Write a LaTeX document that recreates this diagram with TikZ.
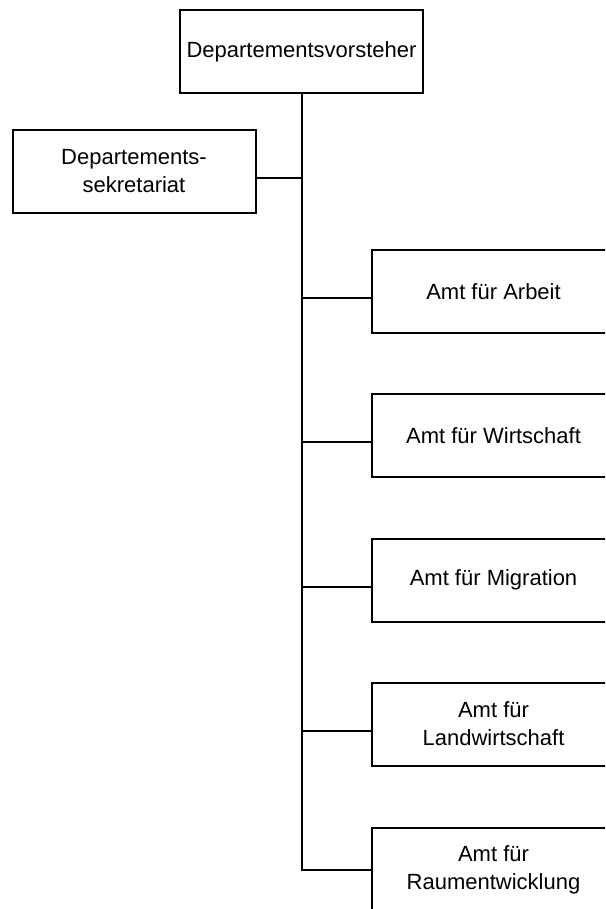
\documentclass[tikz,border=0pt]{standalone}
\usepackage{fontspec}
\setmainfont{Liberation Sans}
\begin{document}
\begin{tikzpicture}[x=1pt,y=-1pt,
 box/.style={draw,line width=2pt,minimum width=243pt,minimum height=83pt,inner sep=0pt,align=center,font=\fontsize{22}{28}\selectfont},
 link/.style={line width=2pt}]
 \useasboundingbox (0,0) rectangle (605,909);
 \clip (0,0) rectangle (605,909);
 \node[box](vorsteher) at (301.5,51.5) {Departementsvorsteher};
 \node[box](sekretariat) at (134,171.5) {Departements-\\sekretariat};
 \node[box](arbeit) at (493.5,291.5) {Amt für Arbeit};
 \node[box](wirtschaft) at (493.5,435.5) {Amt für Wirtschaft};
 \node[box](migration) at (493.5,580) {Amt für Migration};
 \node[box](landwirtschaft) at (493.5,724) {Amt für\\Landwirtschaft};
 \node[box](raum) at (493.5,869.5) {Amt für\\Raumentwicklung};
 \coordinate (ende) at (vorsteher.south |- raum.west);
 \draw[link](vorsteher.south)--(ende)--(raum.west);
 \draw[link]([yshift=-6.5pt]sekretariat.east)--([yshift=-6.5pt]sekretariat.east -| vorsteher.south);
 \foreach \amt in {arbeit,wirtschaft,migration,landwirtschaft}
  \draw[link]([yshift=-6.5pt]\amt.west)--([yshift=-6.5pt]\amt.west -| vorsteher.south);
\end{tikzpicture}
\end{document}
